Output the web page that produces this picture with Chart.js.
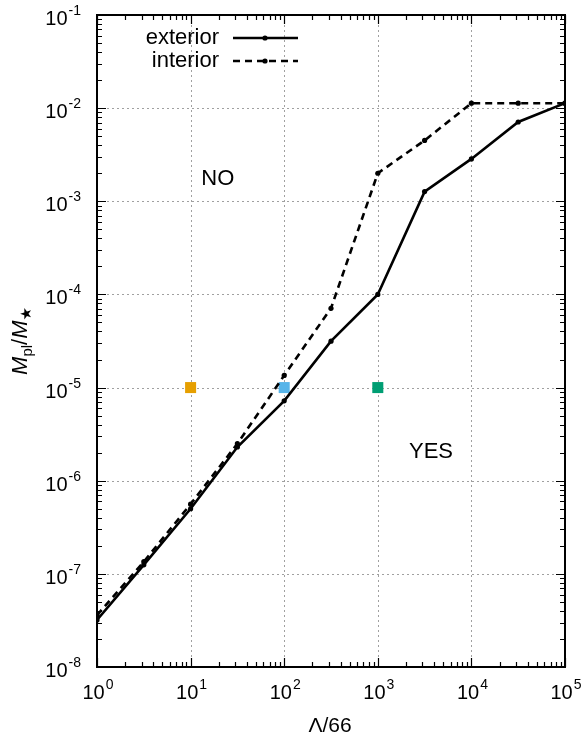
<!DOCTYPE html>
<html><head><meta charset="utf-8">
<script src="https://cdn.jsdelivr.net/npm/chart.js@4/dist/chart.umd.min.js"></script>
<style>html,body{margin:0;padding:0;background:#fff}#wrap{width:582px;height:741px;position:relative}</style>
</head><body><div id="wrap"><canvas id="c" width="582" height="741"></canvas></div>
<script>
const lambdaVals = [1, 3.162, 10, 31.62, 100, 316.2, 1000, 3162, 10000, 31620, 100000];
const exterior = [3.2e-8, 1.25e-7, 5.0e-7, 2.3e-6, 7.2e-6, 3.15e-5, 1.0e-4, 1.27e-3, 2.85e-3, 7.1e-3, 1.13e-2];
const interior = [3.6e-8, 1.35e-7, 5.6e-7, 2.5e-6, 1.35e-5, 7.1e-5, 2.0e-3, 4.5e-3, 1.13e-2, 1.13e-2, 1.13e-2];
const squareX = [10, 100, 1000];
const squareY = [1e-5, 1e-5, 1e-5];
const squareColors = ['#E69F00', '#56B4E9', '#009E73'];
const xTickExps = [0, 1, 2, 3, 4, 5];
const yTickExps = [-8, -7, -6, -5, -4, -3, -2, -1];
const regionLabels = [{text: 'NO', x: 19.5, y: 1.75e-3}, {text: 'YES', x: 3700, y: 2.05e-6}];
const legendLabels = ['exterior', 'interior'];

const FONT = '"Liberation Sans", Arial, Helvetica, sans-serif';

const decor = {
  id: 'decor',
  beforeDatasetsDraw(chart) {
    const ctx = chart.ctx, xs = chart.scales.x, ys = chart.scales.y, a = chart.chartArea;
    ctx.save();
    ctx.strokeStyle = '#a0a0a0'; ctx.lineWidth = 1; ctx.setLineDash([2, 3]);
    xTickExps.forEach(e => { if (e === 0 || e === 5) return; const px = Math.round(xs.getPixelForValue(Math.pow(10, e))) + 0.5;
      ctx.beginPath(); ctx.moveTo(px, a.top); ctx.lineTo(px, a.bottom); ctx.stroke(); });
    yTickExps.forEach(e => { if (e === -8 || e === -1) return; const py = Math.round(ys.getPixelForValue(Math.pow(10, e))) + 0.5;
      ctx.beginPath(); ctx.moveTo(a.left, py); ctx.lineTo(a.right, py); ctx.stroke(); });
    ctx.setLineDash([]);
    ctx.restore();
  },
  afterDatasetsDraw(chart) {
    const ctx = chart.ctx, xs = chart.scales.x, ys = chart.scales.y, a = chart.chartArea;
    ctx.save();
    ctx.strokeStyle = '#000'; ctx.lineWidth = 1.2;
    const tick = (vert, p, len) => {
      ctx.beginPath();
      if (vert) { ctx.moveTo(p, a.bottom); ctx.lineTo(p, a.bottom - len); ctx.moveTo(p, a.top); ctx.lineTo(p, a.top + len); }
      else { ctx.moveTo(a.left, p); ctx.lineTo(a.left + len, p); ctx.moveTo(a.right, p); ctx.lineTo(a.right - len, p); }
      ctx.stroke();
    };
    for (let e = 0; e <= 5; e++) {
      tick(true, Math.round(xs.getPixelForValue(Math.pow(10, e))) + 0.5, 9);
      if (e < 5) for (let m = 2; m <= 9; m++) tick(true, Math.round(xs.getPixelForValue(m * Math.pow(10, e))) + 0.5, 5);
    }
    for (let e = -8; e <= -1; e++) {
      tick(false, Math.round(ys.getPixelForValue(Math.pow(10, e))) + 0.5, 9);
      if (e < -1) for (let m = 2; m <= 9; m++) tick(false, Math.round(ys.getPixelForValue(m * Math.pow(10, e))) + 0.5, 5);
    }
    ctx.lineWidth = 2;
    ctx.strokeRect(a.left, a.top, a.right - a.left, a.bottom - a.top);
    ctx.fillStyle = '#000';
    const pow = (x, y, e, align) => {
      ctx.font = '20px ' + FONT;
      const w1 = ctx.measureText('10').width;
      ctx.font = '14px ' + FONT;
      const w2 = ctx.measureText(String(e)).width;
      let x0 = align === 'right' ? x - w1 - w2 - 1 : x - (w1 + w2 + 1) / 2;
      ctx.textAlign = 'left'; ctx.textBaseline = 'alphabetic';
      ctx.font = '20px ' + FONT; ctx.fillText('10', x0, y);
      ctx.font = '14px ' + FONT; ctx.fillText(String(e), x0 + w1 + 1, y - 10);
    };
    xTickExps.forEach(e => pow(xs.getPixelForValue(Math.pow(10, e)) + 1, 699, e, 'center'));
    yTickExps.forEach(e => pow(81, ys.getPixelForValue(Math.pow(10, e)) + 10, e, 'right'));
    ctx.font = '22px ' + FONT; ctx.textAlign = 'center'; ctx.textBaseline = 'middle';
    regionLabels.forEach(r => ctx.fillText(r.text, xs.getPixelForValue(r.x), ys.getPixelForValue(r.y)));
    ctx.font = '21px ' + FONT; ctx.textBaseline = 'alphabetic';
    ctx.fillText('\u039B/66', 330, 732);
    ctx.save();
    ctx.translate(27, 341); ctx.rotate(-Math.PI / 2);
    const parts = [
      {t: 'M', f: 'italic 22px ' + FONT, dy: 0},
      {t: 'pl', f: '15px ' + FONT, dy: 5},
      {t: '/', f: '22px ' + FONT, dy: 0},
      {t: 'M', f: 'italic 22px ' + FONT, dy: 0},
      {t: '\u2605', f: '15px "DejaVu Sans", ' + FONT, dy: 4}
    ];
    let tw = 0; parts.forEach(p => { ctx.font = p.f; p.w = ctx.measureText(p.t).width; tw += p.w; });
    let cx = -tw / 2; ctx.textAlign = 'left';
    parts.forEach(p => { ctx.font = p.f; ctx.fillText(p.t, cx, p.dy); cx += p.w; });
    ctx.restore();
    ctx.font = '22px ' + FONT; ctx.textAlign = 'right'; ctx.textBaseline = 'middle';
    legendLabels.forEach((lab, i) => {
      const y = 38 + i * 23;
      ctx.fillText(lab, 219, y);
      ctx.lineWidth = 2.6; ctx.setLineDash(i === 0 ? [] : [7, 5]);
      ctx.beginPath(); ctx.moveTo(233, y); ctx.lineTo(298, y); ctx.stroke();
      ctx.setLineDash([]);
      ctx.beginPath(); ctx.arc(265, y, 2.6, 0, Math.PI * 2); ctx.fill();
    });
    ctx.restore();
  }
};

new Chart(document.getElementById('c'), {
  type: 'line',
  data: {
    datasets: [
      {label: 'squares', type: 'scatter', data: squareX.map((x, i) => ({x, y: squareY[i]})),
        pointStyle: 'rect', pointRadius: 7.8, backgroundColor: squareColors, borderColor: squareColors, borderWidth: 0, order: 3},
      {label: legendLabels[0], data: lambdaVals.map((x, i) => ({x, y: exterior[i]})), borderColor: '#000', backgroundColor: '#000',
        borderWidth: 2.6, pointRadius: 2.6, pointBorderWidth: 0, tension: 0, order: 2},
      {label: legendLabels[1], data: lambdaVals.map((x, i) => ({x, y: interior[i]})), borderColor: '#000', backgroundColor: '#000',
        borderWidth: 2.6, borderDash: [7, 5], pointRadius: 2.6, pointBorderWidth: 0, tension: 0, order: 1}
    ]
  },
  options: {
    responsive: false, animation: false, devicePixelRatio: 1,
    layout: {padding: {left: 97, top: 15, right: 17, bottom: 74}},
    plugins: {legend: {display: false}, tooltip: {enabled: false}},
    scales: {
      x: {type: 'logarithmic', min: 1, max: 1e5, display: false},
      y: {type: 'logarithmic', min: 1e-8, max: 1e-1, display: false}
    }
  },
  plugins: [decor]
});
</script></body></html>
